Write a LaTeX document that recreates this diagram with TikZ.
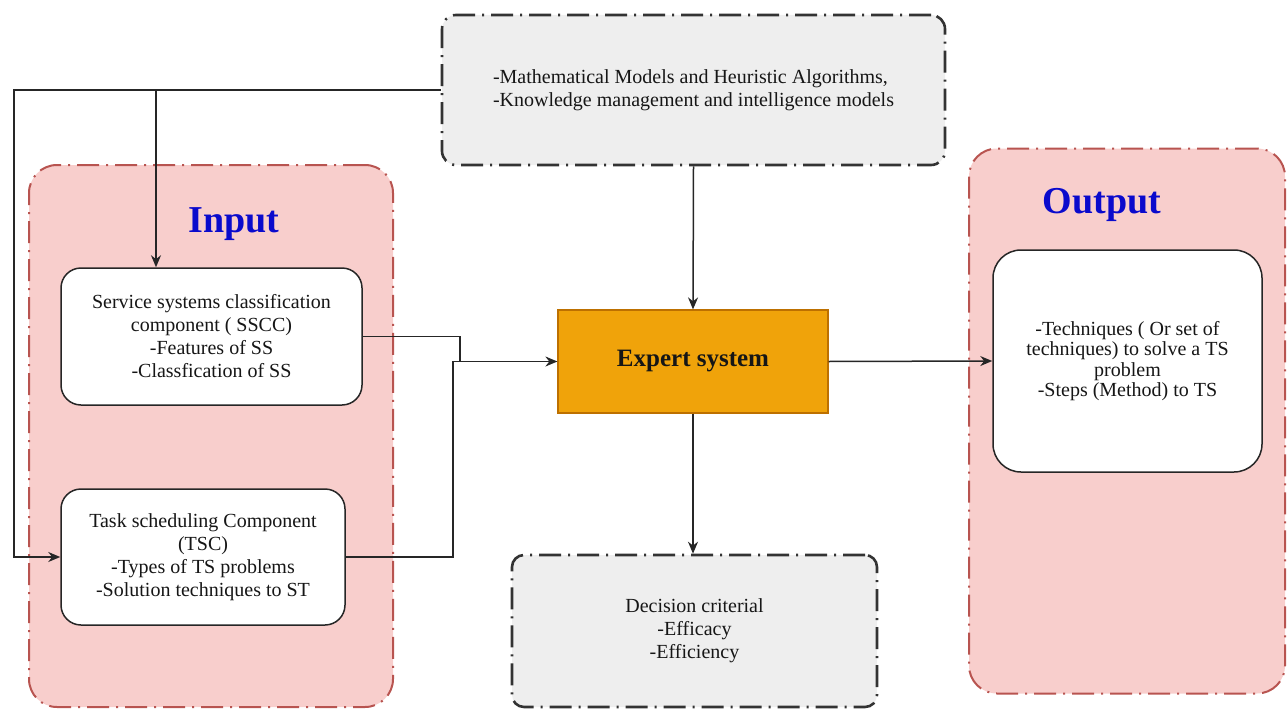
\documentclass[tikz,border=0pt]{standalone}
\usepackage{fontspec}
\setmainfont{Liberation Serif}
\usetikzlibrary{arrows.meta,calc}

\definecolor{redfill}{HTML}{F8CECC}
\definecolor{redline}{HTML}{B85450}
\definecolor{greyfill}{HTML}{EEEEEE}
\definecolor{greyline}{HTML}{333333}
\definecolor{orangefill}{HTML}{F0A30A}
\definecolor{orangeline}{HTML}{BD7000}
\definecolor{titleblue}{HTML}{0A0ACC}
\definecolor{ink}{HTML}{161616}

\tikzset{
  dashdot/.style={dash pattern=on 22pt off 7pt on 2pt off 7pt},
  group/.style={draw=redline, fill=redfill, line width=2pt, dashdot,
    rounded corners=28pt, inner sep=0pt},
  greybox/.style={draw=greyline, fill=greyfill, line width=2.6pt, dashdot,
    rounded corners=14pt, text=ink, align=center, inner sep=0pt,
    font=\fontsize{20}{23}\selectfont},
  whitebox/.style={draw=black!85, fill=white, line width=1.5pt,
    rounded corners=20pt, align=center, text=ink, inner sep=0pt,
    font=\fontsize{20}{23}\selectfont},
  corebox/.style={draw=orangeline, fill=orangefill, line width=1.2pt,
    text=ink, inner sep=0pt, font=\fontsize{25}{28}\bfseries},
  grouptitle/.style={text=titleblue, inner sep=0pt,
    font=\fontsize{38}{40}\bfseries},
  link/.style={draw=black!85, line width=1.5pt},
  arrow/.style={link, -{Stealth[length=12pt,width=10pt]}}
}

\begin{document}
\begin{tikzpicture}[x=1pt,y=-1pt]
  \useasboundingbox (0,0) rectangle (1287,709);

  % group panels
  \node[group, minimum width=364pt, minimum height=542pt] (ingrp) at (211,436) {};
  \node[group, minimum width=316pt, minimum height=545pt] (outgrp) at (1127,421) {};
  \node[grouptitle, anchor=base] (intitle) at (234,232) {Input};
  \node[grouptitle, anchor=base] (outtitle) at (1102,213) {Output};

  % knowledge sources
  \node[greybox, minimum width=503pt, minimum height=150pt, align=left] (models) at (693.5,90)
    {-Mathematical Models and Heuristic Algorithms,\\-Knowledge management and intelligence models};

  % input components
  \node[whitebox, minimum width=301pt, minimum height=137pt] (sscc) at (211.5,336.5)
    {Service systems classification\\component ( SSCC)\\-Features of SS\\-Classfication of SS};
  \node[whitebox, minimum width=284pt, minimum height=136pt] (tsc) at (203,557)
    {Task scheduling Component\\(TSC)\\-Types of TS problems\\-Solution techniques to ST};

  % core
  \node[corebox, minimum width=270pt, minimum height=103pt] (expert) at (693,361.5) {Expert system};

  % decision criteria
  \node[greybox, minimum width=365pt, minimum height=152pt, rounded corners=12pt] (decision) at (694.5,631)
    {Decision criterial\\-Efficacy\\-Efficiency};

  % output
  \node[whitebox, minimum width=269pt, minimum height=222pt, rounded corners=28pt,
        font=\fontsize{20}{20.5}\selectfont] (result) at (1127.5,361)
    {-Techniques ( Or set of\\techniques) to solve a TS\\problem\\-Steps (Method) to TS};

  % connectors
  \coordinate (lc) at (14,90);
  \coordinate (jn) at (156,90);
  \coordinate (m1) at (460,361.5);
  \coordinate (m2) at (453,361.5);

  \draw[arrow] (models.west) -- (lc) |- (tsc.west);
  \draw[arrow] (jn) -- (jn |- sscc.north);
  \draw[link] (sscc.east) -| (m1);
  \draw[arrow] (tsc.east) -| (m2) -- (expert.west);
  \draw[arrow] (models.south) -- (expert.north);
  \draw[arrow] (expert.south) -- (expert.south |- decision.north);
  \draw[arrow] (expert.east) -- (result.west);
\end{tikzpicture}
\end{document}
